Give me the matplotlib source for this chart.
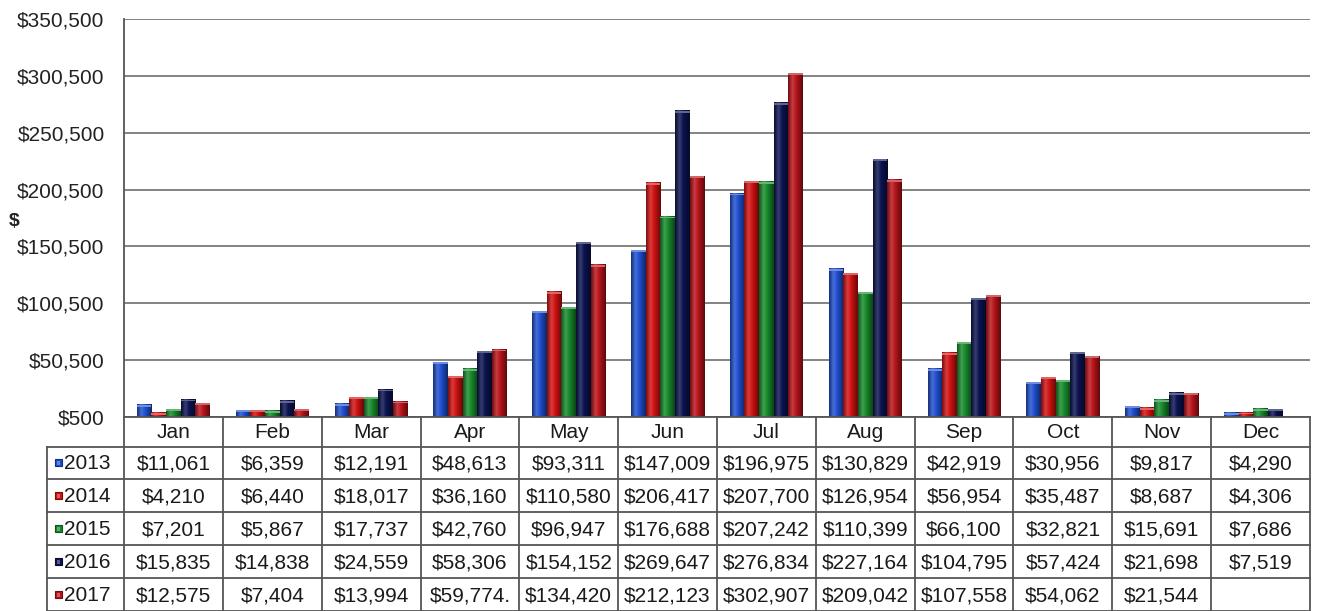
import numpy as np
import matplotlib
matplotlib.use("Agg")
import matplotlib.pyplot as plt
from matplotlib.colors import LinearSegmentedColormap, to_rgb
from matplotlib.patches import Rectangle
import matplotlib.ticker as mticker

plt.rcParams['font.family'] = ['Liberation Sans', 'DejaVu Sans']

# ---- data -------------------------------------------------------------
months = ["Jan", "Feb", "Mar", "Apr", "May", "Jun",
          "Jul", "Aug", "Sep", "Oct", "Nov", "Dec"]
years = ["2013", "2014", "2015", "2016", "2017"]

sales_2013 = [11061, 6359, 12191, 48613, 93311, 147009, 196975, 130829, 42919, 30956, 9817, 4290]
sales_2014 = [4210, 6440, 18017, 36160, 110580, 206417, 207700, 126954, 56954, 35487, 8687, 4306]
sales_2015 = [7201, 5867, 17737, 42760, 96947, 176688, 207242, 110399, 66100, 32821, 15691, 7686]
sales_2016 = [15835, 14838, 24559, 58306, 154152, 269647, 276834, 227164, 104795, 57424, 21698, 7519]
sales_2017 = [12575, 7404, 13994, 59774, 134420, 212123, 302907, 209042, 107558, 54062, 21544, None]

series = [sales_2013, sales_2014, sales_2015, sales_2016, sales_2017]
colors = ["#1f4fcf", "#d01212", "#178a2c", "#0b1350", "#b8141a"]

# stray trailing mark in one table cell
cell_suffix = {(4, 3): "."}

y_ticks = [500, 50500, 100500, 150500, 200500, 250500, 300500, 350500]

# ---- layout -----------------------------------------------------------
W, H = 1317, 611
fig = plt.figure(figsize=(W / 100, H / 100), dpi=100, facecolor="white")

left_px, right_px = 124, 1310
top_px, base_px = 19, 417
ax = fig.add_axes([left_px / W, (H - base_px) / H,
                   (right_px - left_px) / W, (base_px - top_px) / H])

n_series = len(series)
bar_w = 0.148
x = np.arange(len(months))


def shade(c, f):
    r, g, b = to_rgb(c)
    if f >= 1:
        return tuple(min(1, v + (1 - v) * (f - 1)) for v in (r, g, b))
    return (r * f, g * f, b * f)


grad = np.linspace(0, 1, 64).reshape(1, -1)
for si, (vals, col) in enumerate(zip(series, colors)):
    cmap = LinearSegmentedColormap.from_list(
        f"g{si}", [(0, shade(col, 0.6)), (0.3, shade(col, 1.18)),
                   (0.55, shade(col, 1.0)), (1, shade(col, 0.5))])
    offs = (si - (n_series - 1) / 2) * bar_w
    heights = [np.nan if v is None else v for v in vals]
    bars = ax.bar(x + offs, heights, width=bar_w, color=col,
                  edgecolor="none", zorder=2)
    for rect in bars:
        h = rect.get_height()
        if not np.isfinite(h):
            continue
        x0 = rect.get_x()
        ax.imshow(grad, extent=[x0, x0 + rect.get_width(), 0, h],
                  aspect="auto", cmap=cmap, zorder=3, interpolation="bilinear")
        # lighter cap on top of each bar
        ax.add_patch(Rectangle((x0, h - 1600), rect.get_width(), 1600,
                               color=shade(col, 1.35), zorder=4, lw=0))

ax.set_xlim(-0.5, len(months) - 0.5)
ax.set_ylim(y_ticks[0], y_ticks[-1])
ax.set_yticks(y_ticks)
ax.yaxis.set_major_formatter(mticker.FuncFormatter(lambda v, p: f"${v:,.0f}"))
ax.set_xticks([])
ax.tick_params(axis="y", length=0, pad=14, labelsize=15, labelcolor="#222222")
ax.grid(axis="y", color="#7a7a7a", lw=1.3, zorder=1)
for s in ["top", "right", "bottom"]:
    ax.spines[s].set_visible(False)
ax.spines["left"].set_color("#555555")
ax.spines["left"].set_linewidth(1.3)

fig.text(9 / W, 1 - 221 / H, "$", fontsize=14, fontweight="bold",
         ha="left", va="center", color="#222222")

# ---- data table -------------------------------------------------------
tax = fig.add_axes([left_px / W, 0, (right_px - left_px) / W, (H - base_px) / H])
tax.set_xlim(-0.5, len(months) - 0.5)
tax.set_ylim(H - base_px, 0)
tax.axis("off")

cat_px = (right_px - left_px) / len(months)
table_left = -0.5 - (left_px - 47) / cat_px
header_h = 29.5
row_h = (H - base_px - header_h) / len(years)
line_kw = dict(color="#555555", lw=1.3, clip_on=False, zorder=5)

# horizontal rules
tax.plot([-0.5, len(months) - 0.5], [0, 0], **line_kw)
for r in range(len(years) + 1):
    yy = header_h + r * row_h
    tax.plot([table_left, len(months) - 0.5], [yy, yy], **line_kw)
# vertical rules
tax.plot([table_left, table_left], [header_h, H - base_px], **line_kw)
for c in range(len(months) + 1):
    xx = c - 0.5
    tax.plot([xx, xx], [0, H - base_px], **line_kw)

txt_kw = dict(fontsize=15, color="#1a1a1a", ha="center", va="center")
for c, m in enumerate(months):
    tax.text(c, header_h / 2 + 1, m, **txt_kw)

key_px = 7
for r, (yr, vals, col) in enumerate(zip(years, series, colors)):
    yc = header_h + (r + 0.5) * row_h
    kx = -0.5 - (left_px - 55) / cat_px
    kw = key_px / cat_px
    tax.add_patch(Rectangle((kx, yc - key_px / 2), kw, key_px,
                            facecolor=col, edgecolor=shade(col, 0.6), lw=0.8,
                            clip_on=False, zorder=6))
    tax.add_patch(Rectangle((kx + kw * 0.3, yc - key_px / 2 + 1.5), kw * 0.35,
                            key_px - 3, facecolor=shade(col, 1.3), lw=0,
                            clip_on=False, zorder=7))
    tax.text(-0.5 - (left_px - 64) / cat_px, yc + 1, yr, fontsize=15,
             color="#1a1a1a", ha="left", va="center", clip_on=False)
    for c, v in enumerate(vals):
        if v is None:
            continue
        label = f"${v:,}" + cell_suffix.get((r, c), "")
        tax.text(c, yc + 1, label, **txt_kw)

fig.savefig("out.png", dpi=100, facecolor="white")
